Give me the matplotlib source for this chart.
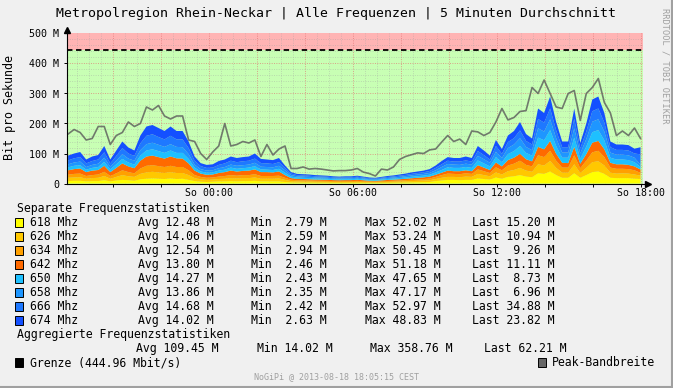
import numpy as np
import matplotlib
matplotlib.use("Agg")
import matplotlib.pyplot as plt
from matplotlib.patches import Rectangle
from matplotlib.lines import Line2D

W, H, DPI = 673, 388, 100
MONO = "DejaVu Sans Mono"

title = "Metropolregion Rhein-Neckar | Alle Frequenzen | 5 Minuten Durchschnitt"
y_label = "Bit pro Sekunde"
x_tick_hours = [0, 6, 12, 18]
x_tick_labels = ["So 00:00", "So 06:00", "So 12:00", "So 18:00"]
y_tick_values = [0, 100, 200, 300, 400, 500]
y_tick_labels = ["0", "100 M", "200 M", "300 M", "400 M", "500 M"]
limit = 444.96
time_start, time_end = -5.85, 18.0   # hours relative to So 00:00, 15-min samples
x_range = (-5.896, 18.083)

freq_names = ["618 Mhz", "626 Mhz", "634 Mhz", "642 Mhz", "650 Mhz", "658 Mhz", "666 Mhz", "674 Mhz"]
freq_colors = ["#FFFF00", "#FFC800", "#FFA000", "#FF6A00", "#1EC0FF", "#1E96FF", "#1E78FF", "#1450FF"]

s618 = [8,9,9,7,8,8,11,7,10,12, 11,9,14,16,17,16,15,17,15,16, 12,8,6,5,6,7,7,8,7,8, 8,9,7,7,7,7,
        5,3.5,3,3,2.8,2.6,2.5,2.4,2.2,2.1,
        2.2,2.3,2.4,2.1,1.9,1.8,2.0,2.3,2.6,2.9,3.2,3.6,4.0,4.4,5,
        8,10,12,12,11,12,12,17,15,13,20,16,22,24,28,23,21,34,32,40,28,19,19,34,19,28,38,40,32,19,18,18,18,16,15.2]
s626 = [11,11,12,9,10,11,14,9,12,16, 13,13,18,21,22,21,20,21,20,19, 16,10,8,7,7,8,9,10,10,10, 10,11,9,9,9,10,
        7,4.5,4,3.5,3.5,3.3,3.2,3.1,2.9,2.8,
        2.9,2.8,3.1,2.8,2.4,2.3,2.7,3.0,3.3,3.6,4.0,4.5,4.9,5.2,5.8,
        7,9,10,10,10,11,10,15,13,11,17,14,19,21,24,20,18,30,28,35,24,17,17,30,16,24,33,34,28,17,15,16,15,14,10.94]
s634 = [10,12,12,9,10,11,14,9,12,16, 14,12,18,22,22,21,20,21,20,20, 16,10,8,7,7,8,9,10,9,10, 10,11,9,9,9,9,
        7,4.5,4,4,3.7,3.4,3.3,3.2,2.9,2.8,
        2.9,3.0,3.2,2.8,2.4,2.3,2.7,3.0,3.3,3.6,4.0,4.5,4.9,5.2,5.8,
        7,9,11,10,10,11,10,15,13,11,17,14,19,21,24,19,18,30,28,34,24,17,17,30,16,24,33,35,28,17,16,15,15,14,9.26]
s642 = [15,16,17,13,15,15,20,13,18,23, 19,17,26,31,32,30,28,31,29,28, 23,15,11,10,10,12,13,15,14,14, 15,16,13,13,12,14,
        9,5.5,4.5,4.5,4.2,3.9,3.8,3.6,3.3,3.2,
        3.3,3.2,3.6,3.2,2.7,2.6,3.0,3.4,3.7,4.1,4.4,4.9,5.3,5.7,6.4,
        7,8,10,9,10,10,9,14,12,10,16,13,18,20,23,19,17,28,26,33,23,16,15,28,15,22,32,33,26,16,15,15,14,13,11.11]
s650 = [10,11,11,8,9,10,13,9,12,15, 13,12,17,20,21,20,19,20,18,19, 15,10,7,7,7,8,8,10,9,9, 10,11,9,8,8,9,
        8,5,4.5,4,4,3.8,3.6,3.5,3.2,3.1,
        3.2,3.3,3.5,3.1,2.7,2.5,2.9,3.3,3.6,4.0,4.4,4.9,5.3,5.7,6.3,
        8,9,11,11,11,11,11,16,14,12,18,14,20,22,26,21,19,31,30,36,26,17,18,31,17,25,35,36,30,17,16,16,16,14,8.73]
s658 = [10,11,12,9,10,11,14,9,12,16, 13,13,18,21,22,21,20,21,20,19, 16,10,8,7,7,8,9,10,10,10, 10,11,9,9,9,10,
        8,5,4,4,4,3.6,3.5,3.4,3.1,3.0,
        3.1,3.0,3.4,3.0,2.6,2.5,2.9,3.3,3.5,3.9,4.3,4.8,5.2,5.6,6.2,
        7,10,11,11,10,11,11,15,14,12,18,14,20,22,26,20,18,31,29,36,26,17,17,31,17,25,35,36,29,17,16,16,16,15,6.96]
s666 = [13,14,15,12,13,14,18,11,16,20, 17,16,23,28,28,26,25,28,25,26, 20,13,10,9,9,11,12,13,12,13, 13,14,12,12,11,12,
        8,5,4,4,3.8,3.6,3.5,3.4,3.2,3.0,
        3.2,3.2,3.4,3.0,2.6,2.5,2.9,3.3,3.5,3.9,4.3,4.8,5.2,5.6,6.2,
        8,9,11,10,11,11,10,16,14,11,19,14,20,21,26,20,19,31,30,36,26,18,18,32,17,25,35,36,30,18,16,16,16,14,34.88]
s674 = [16,16,17,13,15,15,21,13,18,22, 20,18,26,31,31,30,28,31,28,28, 22,14,10,10,11,13,13,14,14,14, 14,17,14,13,13,14,
        8,5,4,4,4,3.8,3.6,3.4,3.2,3.0,
        3.2,3.2,3.4,3.0,2.7,2.5,2.9,3.4,3.5,4.0,4.4,5.0,5.2,5.6,6.3,
        8,11,12,12,12,13,12,17,15,13,20,16,22,24,28,23,20,35,32,40,28,19,19,34,18,27,39,40,32,19,18,18,18,16,23.82]

peak = [165,180,170,145,150,190,190,130,160,170,205,190,200,255,245,260,225,215,225,225,
        145,140,100,80,105,125,200,125,130,140,135,145,90,130,95,115,125,50,50,55,48,50,48,45,42,43,
        43,45,50,38,33,25,48,45,55,80,90,96,102,100,112,115,138,160,140,148,130,175,172,160,170,
        205,250,212,220,240,243,320,300,345,300,255,250,300,310,210,300,320,350,270,235,160,175,160,185,150]

stat_avg = ["12.48", "14.06", "12.54", "13.80", "14.27", "13.86", "14.68", "14.02"]
stat_min = ["2.79", "2.59", "2.94", "2.46", "2.43", "2.35", "2.42", "2.63"]
stat_max = ["52.02", "53.24", "50.45", "51.18", "47.65", "47.17", "52.97", "48.83"]
stat_last = ["15.20", "10.94", "9.26", "11.11", "8.73", "6.96", "34.88", "23.82"]
agg_avg, agg_min, agg_max, agg_last = "109.45", "14.02", "358.76", "62.21"
footer = "NoGiPi @ 2013-08-18 18:05:15 CEST"
watermark = "RRDTOOL / TOBI OETIKER"

series = [s618, s626, s634, s642, s650, s658, s666, s674]
t = np.linspace(time_start, time_end, len(s618))

fig = plt.figure(figsize=(W / DPI, H / DPI), dpi=DPI, facecolor="#F0F0F0")

def fx(px):
    return px / W

def fy(py):
    return 1 - py / H

ax = fig.add_axes([fx(67), fy(183.5), (642.5 - 67) / W, 150 / H])
ax.set_xlim(*x_range)
ax.set_ylim(0, 500)
ax.set_facecolor("white")

ax.axhspan(0, limit, color="#C8FFB4", zorder=0, lw=0)
ax.axhspan(limit, 500, color="#FFB4B4", zorder=0, lw=0)

# grid
dot = (0, (1, 1.6))
for h in np.arange(-5.5, 18.1, 0.5):
    major = abs(h / 2 - round(h / 2)) < 1e-9
    ax.axvline(h, color="#E07070" if major else "#A0A0A0", lw=0.65, ls=dot,
               alpha=0.75 if major else 0.45, zorder=1)
for v in range(20, 500, 20):
    major = v % 100 == 0
    ax.axhline(v, color="#E07070" if major else "#A0A0A0", lw=0.65, ls=dot,
               alpha=0.75 if major else 0.45, zorder=1)

ax.stackplot(t, *series, colors=freq_colors, lw=0, zorder=2)
ax.plot(t, peak, color="#5A5A5A", lw=1.2, alpha=0.8, zorder=3)
ax.axhline(limit, color="black", lw=1.3, ls=(0, (3, 2)), zorder=4)

for s in ["top", "right"]:
    ax.spines[s].set_visible(False)
for s in ["left", "bottom"]:
    ax.spines[s].set_color("black")
    ax.spines[s].set_linewidth(0.8)
    ax.spines[s].set_zorder(5)

major_ticks = np.arange(-4, 18.1, 2)
ax.set_xticks(major_ticks)
ax.set_xticklabels([x_tick_labels[x_tick_hours.index(int(h))] if int(h) in x_tick_hours else ""
                    for h in major_ticks], fontsize=7.1, family=MONO)
ax.set_yticks(y_tick_values)
ax.set_yticklabels(y_tick_labels, fontsize=7.2, family=MONO)
ax.tick_params(axis="x", length=2, width=0.7, pad=1.2, color="black")
ax.tick_params(axis="y", length=2, width=0.7, pad=3.5, color="black")

# axis arrows
ax.plot([x_range[0]], [512], marker="^", color="black", ms=4, clip_on=False, zorder=6)
ax.plot([x_range[1] + 0.22], [0], marker=">", color="black", ms=4, clip_on=False, zorder=6)
ax.add_line(Line2D([x_range[0], x_range[0]], [500, 512], color="black", lw=0.8, clip_on=False))
ax.add_line(Line2D([x_range[1], x_range[1] + 0.22], [0, 0], color="black", lw=0.8, clip_on=False))

fig.text(fx(336), fy(13), title, ha="center", va="center", fontsize=9.5, family=MONO)
fig.text(fx(10), fy(108), y_label, ha="center", va="center", rotation=90, fontsize=8.4, family=MONO)
fig.text(fx(665), fy(8), watermark, ha="center", va="top", rotation=270, fontsize=6.2,
         family=MONO, color="#A0A0A0")

LF = 8.3
fig.text(fx(17), fy(208.5), "Separate Frequenzstatistiken", ha="left", va="center", fontsize=LF, family=MONO)

def swatch(x, y, c):
    fig.add_artist(Rectangle((fx(x), fy(y + 4.5)), 8 / W, 9 / H, transform=fig.transFigure,
                             facecolor=c, edgecolor="black", lw=0.7))

for k, name in enumerate(freq_names):
    y = 222.5 + 14 * k
    swatch(15, y, freq_colors[k])
    fig.text(fx(30), fy(y), name, ha="left", va="center", fontsize=LF, family=MONO)
    fig.text(fx(138), fy(y), f"Avg {stat_avg[k]:>5} M", ha="left", va="center", fontsize=LF, family=MONO)
    fig.text(fx(251), fy(y), f"Min {stat_min[k]:>5} M", ha="left", va="center", fontsize=LF, family=MONO)
    fig.text(fx(365), fy(y), f"Max {stat_max[k]:>5} M", ha="left", va="center", fontsize=LF, family=MONO)
    fig.text(fx(472), fy(y), f"Last {stat_last[k]:>5} M", ha="left", va="center", fontsize=LF, family=MONO)

fig.text(fx(17), fy(334.5), "Aggregierte Frequenzstatistiken", ha="left", va="center", fontsize=LF, family=MONO)
ya = 348.5
fig.text(fx(136), fy(ya), f"Avg {agg_avg} M", ha="left", va="center", fontsize=LF, family=MONO)
fig.text(fx(257), fy(ya), f"Min {agg_min} M", ha="left", va="center", fontsize=LF, family=MONO)
fig.text(fx(370), fy(ya), f"Max {agg_max} M", ha="left", va="center", fontsize=LF, family=MONO)
fig.text(fx(484), fy(ya), f"Last {agg_last} M", ha="left", va="center", fontsize=LF, family=MONO)

yg = 362.5
swatch(15, yg, "black")
fig.text(fx(30), fy(yg), f"Grenze ({limit:.2f} Mbit/s)", ha="left", va="center", fontsize=LF, family=MONO)
swatch(538, yg, "#666666")
fig.text(fx(552), fy(yg), "Peak-Bandbreite", ha="left", va="center", fontsize=LF, family=MONO)

fig.text(fx(337), fy(377), footer, ha="center", va="center", fontsize=6, family=MONO, color="#A0A0A0")

# frame
fig.add_artist(Line2D([fx(0), fx(673)], [fy(387), fy(387)], transform=fig.transFigure, color="#A0A0A0", lw=1.5))
fig.add_artist(Line2D([fx(672), fx(672)], [fy(0), fy(388)], transform=fig.transFigure, color="#A0A0A0", lw=1.5))

fig.savefig("out.png", dpi=DPI, facecolor=fig.get_facecolor())
